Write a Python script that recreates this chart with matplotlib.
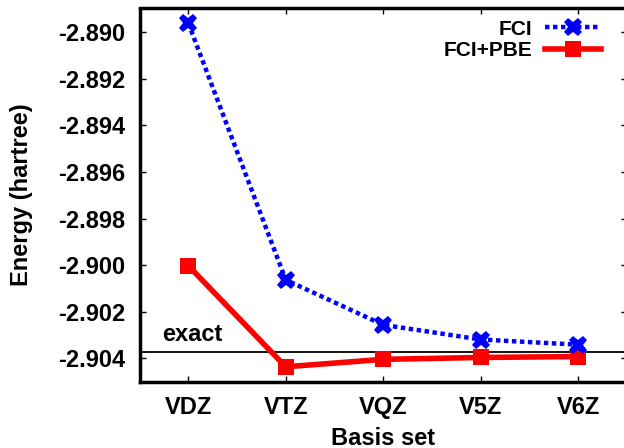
import numpy as np
import matplotlib
matplotlib.use("Agg")
import matplotlib.pyplot as plt

plt.rcParams['font.family'] = ['Liberation Sans', 'DejaVu Sans']
plt.rcParams['font.weight'] = 'bold'
plt.rcParams['font.size'] = 17

basis = ["VDZ", "VTZ", "VQZ", "V5Z", "V6Z"]
fci = [-2.88960, -2.90063, -2.90256, -2.90319, -2.90341]
fci_pbe = [-2.90002, -2.90436, -2.90404, -2.90396, -2.90392]
exact = -2.903724
yticks = [-2.890, -2.892, -2.894, -2.896, -2.898, -2.900, -2.902, -2.904]

x = np.arange(len(basis))

fig = plt.figure(figsize=(6.24, 4.48), dpi=100)
ax = fig.add_axes([139.5/624, 1 - 381.7/448, 487.5/624, 373.2/448])

ax.axhline(exact, color='black', lw=1.3, zorder=1)
ax.text(-0.27, exact + 0.00025, "exact", fontsize=17, fontweight='bold',
        ha='left', va='bottom')

ax.plot(x, fci, color='#0000ff', lw=3.2, linestyle=(0, (1, 0.8)),
        dash_capstyle='butt', marker='X', markersize=13, markeredgewidth=0,
        label="FCI", zorder=3)
ax.plot(x, fci_pbe, color='#ff0000', lw=4, marker='s', markersize=11,
        markeredgewidth=0, label="FCI+PBE", zorder=2)

ax.set_xlim(-0.5, 4.5)
ax.set_ylim(-2.905, -2.88898)
ax.set_xticks(x)
ax.set_xticklabels(basis)
ax.set_yticks(yticks)
ax.set_yticklabels([f"{v:.3f}" for v in yticks])

for s in ax.spines.values():
    s.set_linewidth(2.5)
ax.tick_params(direction='in', length=4, width=1, top=True, right=True)
ax.tick_params(axis='y', pad=10)
ax.tick_params(axis='x', pad=10)

ax.set_xlabel("Basis set", fontweight='bold', labelpad=6)
ax.set_ylabel("Energy (hartree)", fontweight='bold', labelpad=18)

ax.legend(loc='upper right', markerfirst=False, frameon=False, fontsize=15,
          handlelength=2.7, handletextpad=0.6, labelspacing=0.1,
          bbox_to_anchor=(0.985, 1.02))

fig.savefig("out.png", dpi=100)
